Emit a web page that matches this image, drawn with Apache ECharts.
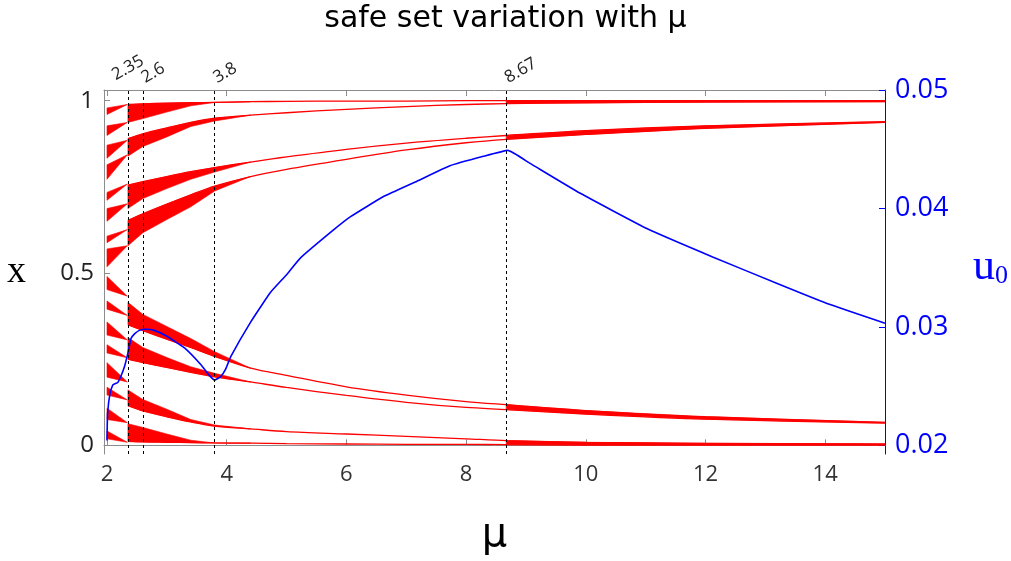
<!DOCTYPE html>
<html>
<head>
<meta charset="utf-8">
<script src="https://cdn.jsdelivr.net/npm/echarts@6/dist/echarts.min.js"></script>
<style>
  html, body { margin: 0; padding: 0; background: #fff; }
  #chart { width: 1011px; height: 561px; }
</style>
</head>
<body>
<div id="chart"></div>
<script>
// boundary curves of the safe set, sampled at these μ values
const curveMu = [2.35, 2.6, 3.0, 3.4, 3.8, 4.4, 5, 6, 7, 8, 8.67, 10, 12, 15];
const curveA = [0.989, 0.991, 0.993, 0.994, 0.995, 0.997, 0.998, 0.999, 0.999, 1.0, 1.0, 1.0, 1.0, 1.0];
const curveB = [0.890, 0.904, 0.921, 0.937, 0.949, 0.958, 0.965, 0.975, 0.983, 0.989, 0.9915, 0.994, 0.996, 0.997];
const curveC = [0.755, 0.765, 0.780, 0.794, 0.806, 0.822, 0.837, 0.859, 0.877, 0.891, 0.899, 0.913, 0.927, 0.939];
const curveD = [0.653, 0.672, 0.700, 0.727, 0.752, 0.780, 0.801, 0.830, 0.857, 0.878, 0.888, 0.902, 0.920, 0.937];
const curveE = [0.350, 0.333, 0.308, 0.284, 0.258, 0.224, 0.203, 0.170, 0.146, 0.127, 0.118, 0.101, 0.083, 0.067];
const curveF = [0.250, 0.240, 0.226, 0.212, 0.199, 0.184, 0.168, 0.145, 0.125, 0.110, 0.104, 0.091, 0.076, 0.065];
const curveG = [0.115, 0.100, 0.083, 0.068, 0.056, 0.048, 0.040, 0.033, 0.026, 0.019, 0.014, 0.009, 0.006, 0.004];
const curveH = [0.012, 0.010, 0.009, 0.008, 0.007, 0.0065, 0.005, 0.004, 0.003, 0.003, 0.002, 0.001, 0.001, 0.001];
const bandFromMu = 8.67; // pairs are filled from here on

// inner edges of the big wedges (they close onto the curves)
const wedgeMu = [2.35, 2.6, 3.0, 3.4, 3.8, 4.4];
const innerA = [0.937, 0.948, 0.967, 0.985, 0.995, 0.997];
const innerB = [0.839, 0.867, 0.895, 0.925, 0.941, 0.958];
const innerC = [0.687, 0.716, 0.745, 0.772, 0.793, 0.822];
const innerD = [0.579, 0.617, 0.655, 0.692, 0.738, 0.780];
const innerE = [0.415, 0.380, 0.345, 0.310, 0.272, 0.224];
const innerF = [0.313, 0.284, 0.255, 0.228, 0.209, 0.184];
const innerG = [0.161, 0.133, 0.105, 0.075, 0.059, 0.048];
const innerH = [0.063, 0.052, 0.033, 0.015, 0.007, 0.0065];

// small wedges between μ = 2 and 2.35
const smallMu = [2.0, 2.34];
const smallTop    = [0.979, 0.927, 0.871, 0.814, 0.734, 0.687, 0.607, 0.570, 0.490, 0.419, 0.358, 0.292, 0.240, 0.169, 0.108, 0.042];
const smallBottom = [0.960, 0.899, 0.833, 0.772, 0.711, 0.650, 0.588, 0.518, 0.452, 0.395, 0.320, 0.268, 0.198, 0.146, 0.075, 0.019];
const smallTip    = [0.989, 0.937, 0.885, 0.843, 0.758, 0.701, 0.626, 0.579, 0.433, 0.377, 0.306, 0.254, 0.184, 0.132, 0.066, 0.009];

// u0 (right axis)
const blueMu = [2.0, 2.01, 2.055, 2.1, 2.18, 2.23, 2.29, 2.35, 2.4, 2.46, 2.54, 2.65, 2.79, 3.0, 3.3, 3.57, 3.71, 3.8, 3.9, 3.98, 4.07, 4.4, 4.73, 5.0, 5.23, 5.79, 6.07, 6.62, 7.18, 7.73, 8.29, 8.7, 9.07, 9.9, 11.02, 12.12, 13.23, 14.07, 15.0];
const blueU = [0.0204, 0.0227, 0.0245, 0.0251, 0.0253, 0.0258, 0.0266, 0.0278, 0.0290, 0.0294, 0.0297, 0.0298, 0.0297, 0.0292, 0.0282, 0.0268, 0.0259, 0.0255, 0.0258, 0.0264, 0.0275, 0.0304, 0.0329, 0.0344, 0.0358, 0.0382, 0.0393, 0.0410, 0.0423, 0.0436, 0.0444, 0.0449, 0.0438, 0.0413, 0.0383, 0.0359, 0.0336, 0.0319, 0.0303];

const markMu = [2.35, 2.6, 3.8, 8.67];
const muTicks = [2, 4, 6, 8, 10, 12, 14];
const xTicks = [0, 0.5, 1];
const uTicks = [0.02, 0.03, 0.04, 0.05];

// polygons for the red regions
const curves = [curveA, curveB, curveC, curveD, curveE, curveF, curveG, curveH];
const inners = [innerA, innerB, innerC, innerD, innerE, innerF, innerG, innerH];
const polys = [];
inners.forEach((inner, k) => {
  const pts = wedgeMu.map((m, i) => [m, curves[k][i]]);
  for (let i = wedgeMu.length - 1; i >= 0; i--) pts.push([wedgeMu[i], inner[i]]);
  polys.push(pts);
});
const bandStart = curveMu.indexOf(bandFromMu);
[[curveA, curveB], [curveC, curveD], [curveE, curveF], [curveG, curveH]].forEach(([p, q]) => {
  const pts = [];
  for (let i = bandStart; i < curveMu.length; i++) pts.push([curveMu[i], p[i]]);
  for (let i = curveMu.length - 1; i >= bandStart; i--) pts.push([curveMu[i], q[i]]);
  polys.push(pts);
});
smallTop.forEach((t, k) => {
  polys.push([[smallMu[0], t], [smallMu[1], smallTip[k]], [smallMu[0], smallBottom[k]]]);
});

const red = '#ff0000';
const blue = '#0000ff';
const frame = '#8c8c8c';

const chart = echarts.init(document.getElementById('chart'));

const curveSeries = curves.map((c) => ({
  type: 'line',
  data: curveMu.map((m, i) => [m, c[i]]),
  showSymbol: false,
  silent: true,
  smooth: 0.3,
  lineStyle: { color: red, width: 1.3 },
  z: 3,
}));

// the marker labels above the frame; 2.35 sits on its own axis so it is not dropped next to 2.6
const markLabel = {
  showMinLabel: true,
  showMaxLabel: true,
  hideOverlap: false,
  rotate: -30,
  verticalAlign: 'middle',
  fontFamily: 'Open Sans',
  fontSize: 17,
  color: '#222',
};

chart.setOption({
  animation: false,
  title: {
    text: 'safe set variation with μ',
    left: 'center',
    top: -1,
    textStyle: { fontFamily: 'DejaVu Sans', fontSize: 30, fontWeight: 'normal', color: '#000' },
  },
  grid: { left: 104, right: 125, top: 90, bottom: 97 },
  xAxis: [
    {
      type: 'value',
      min: 1.95,
      max: 15,
      name: 'μ',
      nameLocation: 'middle',
      nameGap: 62,
      nameTextStyle: { fontFamily: 'DejaVu Sans', fontSize: 40, color: '#000' },
      axisLine: { lineStyle: { color: frame } },
      axisTick: { inside: true, length: 6, customValues: muTicks, lineStyle: { color: frame } },
      axisLabel: { customValues: muTicks, fontFamily: 'Open Sans', fontSize: 22, color: '#333', margin: 10 },
      splitLine: { show: false },
    },
    {
      type: 'value',
      position: 'top',
      min: 1.95,
      max: 15,
      axisLine: { lineStyle: { color: frame } },
      axisTick: { inside: true, length: 6, customValues: muTicks, lineStyle: { color: frame } },
      axisLabel: { ...markLabel, customValues: markMu.slice(1), align: 'left', margin: 11 },
      splitLine: { show: false },
    },
    {
      type: 'value',
      position: 'top',
      min: 1.95,
      max: 15,
      axisLine: { show: false },
      axisTick: { show: false },
      axisLabel: { ...markLabel, customValues: markMu.slice(0, 1), align: 'center', margin: 22 },
      splitLine: { show: false },
    },
  ],
  yAxis: [
    {
      type: 'value',
      min: -0.025,
      max: 1.031,
      name: 'x',
      nameLocation: 'middle',
      nameRotate: 0,
      nameGap: 78,
      nameTextStyle: { fontFamily: 'Liberation Serif', fontSize: 38, color: '#000', padding: [0, 0, 20, 0] },
      axisLine: { show: true, lineStyle: { color: frame } },
      axisTick: { show: true, inside: true, length: 6, customValues: xTicks, lineStyle: { color: frame } },
      axisLabel: { customValues: xTicks, fontFamily: 'Open Sans', fontSize: 24, color: '#222', margin: 10 },
      splitLine: { show: false },
    },
    {
      type: 'value',
      position: 'right',
      min: 0.01926,
      max: 0.05,
      name: '{u|u}{s|0}',
      nameLocation: 'middle',
      nameRotate: 0,
      nameGap: 88,
      nameTextStyle: {
        color: blue,
        padding: [0, 0, 10, 0],
        rich: {
          u: { fontFamily: 'Liberation Serif', fontSize: 44, color: blue, verticalAlign: 'bottom', lineHeight: 44 },
          s: { fontFamily: 'Liberation Serif', fontSize: 26, color: blue, verticalAlign: 'bottom', lineHeight: 26 },
        },
      },
      axisLine: { show: true, lineStyle: { color: blue } },
      axisTick: { show: true, inside: true, length: 6, customValues: uTicks, lineStyle: { color: blue } },
      axisLabel: {
        customValues: uTicks,
        formatter: (v) => v.toFixed(2),
        fontFamily: 'Open Sans',
        fontSize: 27,
        color: blue,
        margin: 10,
      },
      splitLine: { show: false },
    },
  ],
  series: [
    {
      type: 'custom',
      silent: true,
      clip: true,
      data: polys.map((p) => p[0]),
      renderItem: (params, api) => ({
        type: 'polygon',
        shape: { points: polys[params.dataIndex].map((p) => api.coord(p)) },
        style: { fill: red, stroke: red, lineWidth: 0.6 },
      }),
      z: 2,
    },
    ...curveSeries,
    {
      type: 'line',
      yAxisIndex: 1,
      data: blueMu.map((m, i) => [m, blueU[i]]),
      showSymbol: false,
      silent: true,
      smooth: 0.12,
      lineStyle: { color: blue, width: 1.6 },
      z: 4,
      markLine: {
        silent: true,
        symbol: 'none',
        label: { show: false },
        lineStyle: { color: '#000', type: [3, 3], width: 1 },
        data: markMu.map((m) => ({ xAxis: m })),
      },
    },
  ],
});
</script>
</body>
</html>
